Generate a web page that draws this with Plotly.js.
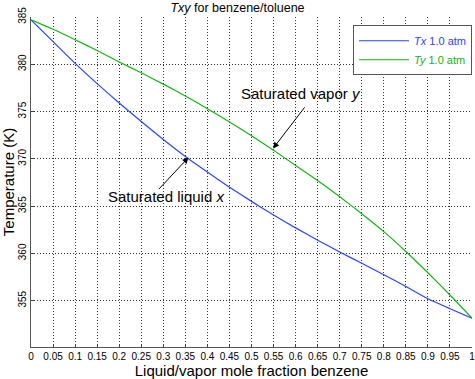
<!DOCTYPE html>
<html>
<head>
<meta charset="utf-8">
<script src="https://cdn.plot.ly/plotly-3.0.1.min.js"></script>
<style>html,body{margin:0;padding:0;background:#fff;} #chart{width:475px;height:379px;}</style>
</head>
<body>
<div id="chart"></div>
<script>
// mole fraction benzene (liquid x / vapor y)
const molFrac = [0, 0.05, 0.1, 0.15, 0.2, 0.25, 0.3, 0.35, 0.4, 0.45, 0.5, 0.55, 0.6, 0.65, 0.7, 0.75, 0.8, 0.85, 0.9, 0.95, 1];
// bubble-point temperature (K), saturated liquid
const tempTx = [384.7, 382.4, 380.1, 377.95, 375.9, 373.95, 372.05, 370.25, 368.6, 367.0, 365.5, 364.05, 362.7, 361.4, 360.15, 358.95, 357.75, 356.5, 355.2, 354.15, 353.15];
// dew-point temperature (K), saturated vapor
const tempTy = [384.7, 383.7, 382.6, 381.45, 380.25, 379.1, 377.9, 376.65, 375.3, 373.9, 372.45, 370.9, 369.3, 367.7, 366.0, 364.2, 362.3, 360.2, 357.95, 355.6, 353.15];
const xTickVals = [0, 0.05, 0.1, 0.15, 0.2, 0.25, 0.3, 0.35, 0.4, 0.45, 0.5, 0.55, 0.6, 0.65, 0.7, 0.75, 0.8, 0.85, 0.9, 0.95, 1];
const xTickText = ['0', '0.05', '0.1', '0.15', '0.2', '0.25', '0.3', '0.35', '0.4', '0.45', '0.5', '0.55', '0.6', '0.65', '0.7', '0.75', '0.8', '0.85', '0.9', '0.95', '1'];
const yTickVals = [355, 360, 365, 370, 375, 380, 385];

const BLUE = '#2a45ff';
const GREEN = '#14b414';
const FONT = 'Liberation Sans, Arial, Helvetica, sans-serif';

const traces = [
  {x: molFrac, y: tempTx, mode: 'lines', line: {color: BLUE, width: 1.2, shape: 'spline', smoothing: 0.5},
   name: '<span style="color:' + BLUE + '"><i>Tx</i> 1.0 atm</span>'},
  {x: molFrac, y: tempTy, mode: 'lines', line: {color: GREEN, width: 1.2, shape: 'spline', smoothing: 0.5},
   name: '<span style="color:' + GREEN + '"><i>Ty</i> 1.0 atm</span>'}
];

const gridStyle = {showgrid: true, gridcolor: '#333', griddash: '1px,2px', gridwidth: 1};

const layout = {
  width: 475, height: 379,
  margin: {l: 31, r: 3, t: 17, b: 32, pad: 0},
  paper_bgcolor: '#fff', plot_bgcolor: '#fff',
  font: {family: FONT, color: '#000', size: 10},
  title: {text: '<i>Txy</i> for benzene/toluene', font: {size: 12.5, family: FONT}, x: 0.5, xanchor: 'center',
          yref: 'container', y: 0.979, yanchor: 'middle'},
  showlegend: true,
  legend: {x: 1.0, xanchor: 'right', y: 0.975, yanchor: 'top', bgcolor: '#fff', bordercolor: '#555', borderwidth: 1,
           font: {size: 11, family: FONT}, itemwidth: 50, tracegroupgap: 0},
  xaxis: Object.assign({
    range: [0, 1], tickvals: xTickVals, ticktext: xTickText, ticks: 'inside', ticklen: 3, tickcolor: '#444',
    showline: true, linecolor: '#555', linewidth: 1, zeroline: false, ticklabeloverflow: 'allow',
    tickfont: {size: 10, family: FONT},
    title: {text: 'Liquid/vapor mole fraction benzene', font: {size: 15, family: FONT}, standoff: 5}
  }, gridStyle),
  yaxis: Object.assign({
    range: [350.1, 385], tickvals: yTickVals, ticks: 'inside', ticklen: 3, tickcolor: '#444', tickangle: -90,
    showline: true, linecolor: '#555', linewidth: 1, zeroline: false, ticklabeloverflow: 'allow',
    tickfont: {size: 10, family: FONT},
    title: {text: 'Temperature (K)', font: {size: 15, family: FONT}, standoff: 1}
  }, gridStyle),
  annotations: [
    {x: 0.357, y: 370.14, ax: 0.287, ay: 366.65, xref: 'x', yref: 'y', axref: 'x', ayref: 'y',
     text: '', showarrow: true, arrowhead: 2, arrowsize: 1.2, arrowwidth: 1, arrowcolor: '#000'},
    {x: 0.305, y: 366.0, xref: 'x', yref: 'y', text: 'Saturated liquid <i>x</i>', showarrow: false,
     font: {size: 15, family: FONT, color: '#000'}},
    {x: 0.549, y: 371.1, ax: 0.623, ay: 375.6, xref: 'x', yref: 'y', axref: 'x', ayref: 'y',
     text: '', showarrow: true, arrowhead: 2, arrowsize: 1.2, arrowwidth: 1, arrowcolor: '#000'},
    {x: 0.612, y: 376.9, xref: 'x', yref: 'y', text: 'Saturated vapor <i>y</i>', showarrow: false,
     font: {size: 15, family: FONT, color: '#000'}}
  ]
};

Plotly.newPlot('chart', traces, layout, {displayModeBar: false, staticPlot: true});
</script>
</body>
</html>
